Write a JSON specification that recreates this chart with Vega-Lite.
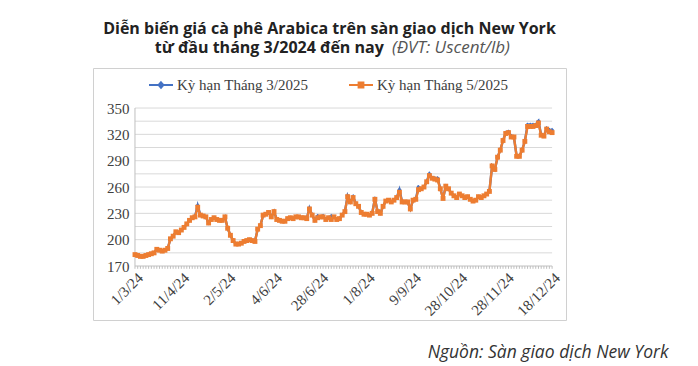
{
  "$schema": "https://vega.github.io/schema/vega-lite/v6.json",
  "width": 473,
  "height": 252,
  "autosize": {"type": "none"},
  "padding": {"left": 93, "top": 68, "right": 132, "bottom": 46},
  "background": "white",
  "title": {
    "text": ["Diễn biến giá cà phê Arabica trên sàn giao dịch New York", "từ đầu tháng 3/2024 đến nay\u00a0\u00a0\u00a0\u00a0\u00a0\u00a0\u00a0\u00a0\u00a0\u00a0\u00a0\u00a0\u00a0\u00a0\u00a0\u00a0\u00a0\u00a0\u00a0\u00a0\u00a0\u00a0\u00a0\u00a0\u00a0\u00a0\u00a0\u00a0\u00a0\u200b"],
    "subtitle": "\u200b\u00a0\u00a0\u00a0\u00a0\u00a0\u00a0\u00a0\u00a0\u00a0\u00a0\u00a0\u00a0\u00a0\u00a0\u00a0\u00a0\u00a0\u00a0\u00a0\u00a0\u00a0\u00a0\u00a0\u00a0\u00a0\u00a0\u00a0\u00a0\u00a0\u00a0\u00a0\u00a0\u00a0\u00a0\u00a0\u00a0\u00a0\u00a0\u00a0\u00a0\u00a0\u00a0\u00a0\u00a0\u00a0\u00a0\u00a0\u00a0\u00a0\u00a0\u00a0\u00a0\u00a0\u00a0\u00a0(ĐVT: Uscent/lb)",
    "anchor": "middle",
    "font": "Open Sans",
    "fontSize": 16,
    "fontWeight": "bold",
    "color": "#222222",
    "lineHeight": 19,
    "subtitleFont": "Open Sans",
    "subtitleFontSize": 17,
    "subtitleFontStyle": "italic",
    "subtitleFontWeight": "normal",
    "subtitleColor": "#555555",
    "subtitlePadding": -15.5,
    "offset": 12
  },
  "data": {"values": [
    {"i":0,"a":183,"b":183},{"i":1,"a":182,"b":182},{"i":2,"a":181,"b":181},{"i":3,"a":181,"b":181},{"i":4,"a":182,"b":182},
    {"i":5,"a":183,"b":183},{"i":6,"a":184,"b":184},{"i":7,"a":185,"b":185},{"i":8,"a":189,"b":189},{"i":9,"a":188,"b":188},
    {"i":10,"a":187,"b":187},{"i":11,"a":188,"b":188},{"i":12,"a":190,"b":190},{"i":13,"a":201,"b":201},{"i":14,"a":204,"b":204},
    {"i":15,"a":209,"b":209},{"i":16,"a":208,"b":208},{"i":17,"a":211,"b":211},{"i":18,"a":214,"b":214},{"i":19,"a":218,"b":218},
    {"i":20,"a":222,"b":222},{"i":21,"a":225,"b":225},{"i":22,"a":226,"b":226},{"i":23,"a":239,"b":237},{"i":24,"a":228,"b":228},
    {"i":25,"a":227,"b":227},{"i":26,"a":226,"b":226},{"i":27,"a":219,"b":219},{"i":28,"a":223,"b":223},{"i":29,"a":225,"b":225},
    {"i":30,"a":223,"b":223},{"i":31,"a":222,"b":222},{"i":32,"a":222,"b":222},{"i":33,"a":226,"b":226},{"i":34,"a":213,"b":213},
    {"i":35,"a":205,"b":205},{"i":36,"a":199,"b":199},{"i":37,"a":195,"b":195},{"i":38,"a":195,"b":195},{"i":39,"a":196,"b":196},
    {"i":40,"a":198,"b":198},{"i":41,"a":199,"b":199},{"i":42,"a":200,"b":200},{"i":43,"a":199,"b":199},{"i":44,"a":198,"b":198},
    {"i":45,"a":212,"b":212},{"i":46,"a":216,"b":216},{"i":47,"a":228,"b":228},{"i":48,"a":229,"b":229},{"i":49,"a":231,"b":231},
    {"i":50,"a":226,"b":226},{"i":51,"a":232,"b":232},{"i":52,"a":223,"b":223},{"i":53,"a":222,"b":222},{"i":54,"a":221,"b":221},
    {"i":55,"a":221,"b":221},{"i":56,"a":224,"b":224},{"i":57,"a":225,"b":225},{"i":58,"a":224,"b":224},{"i":59,"a":226,"b":226},
    {"i":60,"a":226,"b":226},{"i":61,"a":225,"b":225},{"i":62,"a":225,"b":225},{"i":63,"a":224,"b":224},{"i":64,"a":236,"b":235},
    {"i":65,"a":228,"b":228},{"i":66,"a":222,"b":222},{"i":67,"a":227,"b":225},{"i":68,"a":226,"b":226},{"i":69,"a":227,"b":226},
    {"i":70,"a":223,"b":223},{"i":71,"a":225,"b":225},{"i":72,"a":227,"b":223},{"i":73,"a":226,"b":226},{"i":74,"a":223,"b":223},
    {"i":75,"a":224,"b":224},{"i":76,"a":228,"b":228},{"i":77,"a":232,"b":232},{"i":78,"a":250,"b":249},{"i":79,"a":243,"b":243},
    {"i":80,"a":249,"b":248},{"i":81,"a":241,"b":241},{"i":82,"a":238,"b":238},{"i":83,"a":231,"b":231},{"i":84,"a":229,"b":229},
    {"i":85,"a":229,"b":229},{"i":86,"a":228,"b":228},{"i":87,"a":230,"b":230},{"i":88,"a":247,"b":246},{"i":89,"a":232,"b":232},
    {"i":90,"a":230,"b":230},{"i":91,"a":238,"b":238},{"i":92,"a":244,"b":244},{"i":93,"a":245,"b":245},{"i":94,"a":243,"b":243},
    {"i":95,"a":245,"b":245},{"i":96,"a":248,"b":248},{"i":97,"a":257,"b":254},{"i":98,"a":243,"b":243},{"i":99,"a":243,"b":243},
    {"i":100,"a":243,"b":243},{"i":101,"a":235,"b":235},{"i":102,"a":245,"b":245},{"i":103,"a":246,"b":246},{"i":104,"a":260,"b":257},
    {"i":105,"a":258,"b":258},{"i":106,"a":260,"b":260},{"i":107,"a":266,"b":266},{"i":108,"a":275,"b":273},{"i":109,"a":270,"b":270},
    {"i":110,"a":270,"b":269},{"i":111,"a":270,"b":268},{"i":112,"a":258,"b":258},{"i":113,"a":247,"b":247},{"i":114,"a":261,"b":261},
    {"i":115,"a":258,"b":258},{"i":116,"a":253,"b":253},{"i":117,"a":250,"b":250},{"i":118,"a":248,"b":248},{"i":119,"a":252,"b":252},
    {"i":120,"a":250,"b":250},{"i":121,"a":248,"b":248},{"i":122,"a":249,"b":249},{"i":123,"a":246,"b":246},{"i":124,"a":244,"b":244},
    {"i":125,"a":245,"b":245},{"i":126,"a":249,"b":249},{"i":127,"a":248,"b":248},{"i":128,"a":250,"b":250},{"i":129,"a":252,"b":252},
    {"i":130,"a":255,"b":255},{"i":131,"a":284,"b":284},{"i":132,"a":280,"b":280},{"i":133,"a":294,"b":294},{"i":134,"a":302,"b":302},
    {"i":135,"a":313,"b":313},{"i":136,"a":322,"b":321},{"i":137,"a":323,"b":322},{"i":138,"a":318,"b":317},{"i":139,"a":317,"b":317},
    {"i":140,"a":295,"b":295},{"i":141,"a":295,"b":295},{"i":142,"a":302,"b":302},{"i":143,"a":312,"b":312},{"i":144,"a":331,"b":329},
    {"i":145,"a":331,"b":329},{"i":146,"a":331,"b":329},{"i":147,"a":331,"b":330},{"i":148,"a":335,"b":333},{"i":149,"a":319,"b":319},
    {"i":150,"a":318,"b":318},{"i":151,"a":327,"b":326},{"i":152,"a":325,"b":323},{"i":153,"a":325,"b":322}
  ]},
  "layer": [
    {
      "data": {"values": [{"g":185},{"g":200},{"g":215},{"g":230},{"g":245},{"g":260},{"g":275},{"g":290},{"g":305},{"g":320},{"g":335},{"g":350}]},
      "mark": {"type": "rule", "color": "#d9d9d9", "strokeWidth": 1},
      "encoding": {
        "y": {"field": "g", "type": "quantitative"},
        "x": {"datum": 0},
        "x2": {"datum": 153}
      }
    },
    {
      "mark": {"type": "rule", "color": "#bfbfbf", "strokeWidth": 1},
      "encoding": {
        "x": {"field": "i", "type": "quantitative"},
        "y": {"datum": 170},
        "y2": {"datum": 166.8}
      }
    },
    {
      "data": {"values": [{"x1":0,"x2":153,"y1":170,"y2":170},{"x1":0,"x2":0,"y1":170,"y2":350}]},
      "mark": {"type": "rule", "color": "#bfbfbf", "strokeWidth": 1},
      "encoding": {
        "x": {"field": "x1", "type": "quantitative"},
        "x2": {"field": "x2"},
        "y": {"field": "y1", "type": "quantitative"},
        "y2": {"field": "y2"}
      }
    },
    {
      "transform": [{"fold": ["a", "b"], "as": ["s", "v"]}],
      "mark": {"type": "line", "strokeWidth": 2.4},
      "encoding": {
        "x": {
          "field": "i", "type": "quantitative",
          "scale": {"domain": [-15.4, 158.1], "nice": false, "zero": false},
          "axis": {
            "title": "Nguồn: Sàn giao dịch New York",
            "titleFont": "Open Sans", "titleFontSize": 17.5, "titleFontStyle": "italic", "titleFontWeight": "normal",
            "titleColor": "#333333", "titleAlign": "right", "titleAnchor": "end", "titleBaseline": "alphabetic",
            "titleX": 575, "titleY": 91,
            "offset": -54, "domain": false, "ticks": false, "grid": false,
            "values": [0, 17, 34, 51, 68, 85, 102, 119, 136, 153],
            "labelExpr": "['1/3/24','11/4/24','2/5/24','4/6/24','28/6/24','1/8/24','9/9/24','28/10/24','28/11/24','18/12/24'][round(datum.value/17)]",
            "labelAngle": -45, "labelFont": "Liberation Serif", "labelFontSize": 15, "labelColor": "#404040",
            "labelPadding": 4, "labelOverlap": false
          }
        },
        "y": {
          "field": "v", "type": "quantitative",
          "scale": {"domain": [108.5, 395.6], "nice": false, "zero": false},
          "axis": {
            "title": null, "offset": -42, "domain": false, "ticks": false, "grid": false,
            "values": [170, 185, 200, 215, 230, 245, 260, 275, 290, 305, 320, 335, 350],
            "labelOverlap": false,
            "labelFont": "Liberation Serif", "labelFontSize": 15, "labelColor": "#404040", "labelPadding": 6
          }
        },
        "color": {
          "field": "s", "type": "nominal",
          "scale": {"domain": ["a", "b"], "range": ["#4472C4", "#ED7D31"]},
          "legend": {
            "orient": "none", "legendX": 55, "legendY": 4, "direction": "horizontal", "title": null,
            "labelFont": "Liberation Serif", "labelFontSize": 15, "labelColor": "#404040",
            "labelExpr": "datum.value == 'a' ? 'Kỳ hạn Tháng 3/2025' : 'Kỳ hạn Tháng 5/2025'",
            "symbolSize": 576, "symbolStrokeWidth": 2, "columnPadding": 36, "labelOffset": 3,
            "encode": {"symbols": {"update": {
              "shape": {"signal": "datum.value == 'a' ? 'M-1,0H1M0,-0.22L0.2,0L0,0.22L-0.2,0Z' : 'M-1,0H1M-0.2,-0.2H0.2V0.2H-0.2Z'"},
              "stroke": {"signal": "datum.value == 'a' ? '#4472C4' : '#ED7D31'"},
              "fill": {"signal": "datum.value == 'a' ? '#4472C4' : '#ED7D31'"},
              "strokeWidth": {"value": 2}
            }}}
          }
        }
      }
    },
    {
      "mark": {"type": "point", "filled": true, "size": 18, "opacity": 1, "shape": "diamond", "color": "#4472C4"},
      "encoding": {
        "x": {"field": "i", "type": "quantitative"},
        "y": {"field": "a", "type": "quantitative"}
      }
    },
    {
      "mark": {"type": "point", "filled": true, "size": 24, "opacity": 1, "shape": "square", "color": "#ED7D31"},
      "encoding": {
        "x": {"field": "i", "type": "quantitative"},
        "y": {"field": "b", "type": "quantitative"}
      }
    }
  ],
  "config": {
    "view": {"stroke": "#d0d0d0", "strokeWidth": 1}
  }
}
